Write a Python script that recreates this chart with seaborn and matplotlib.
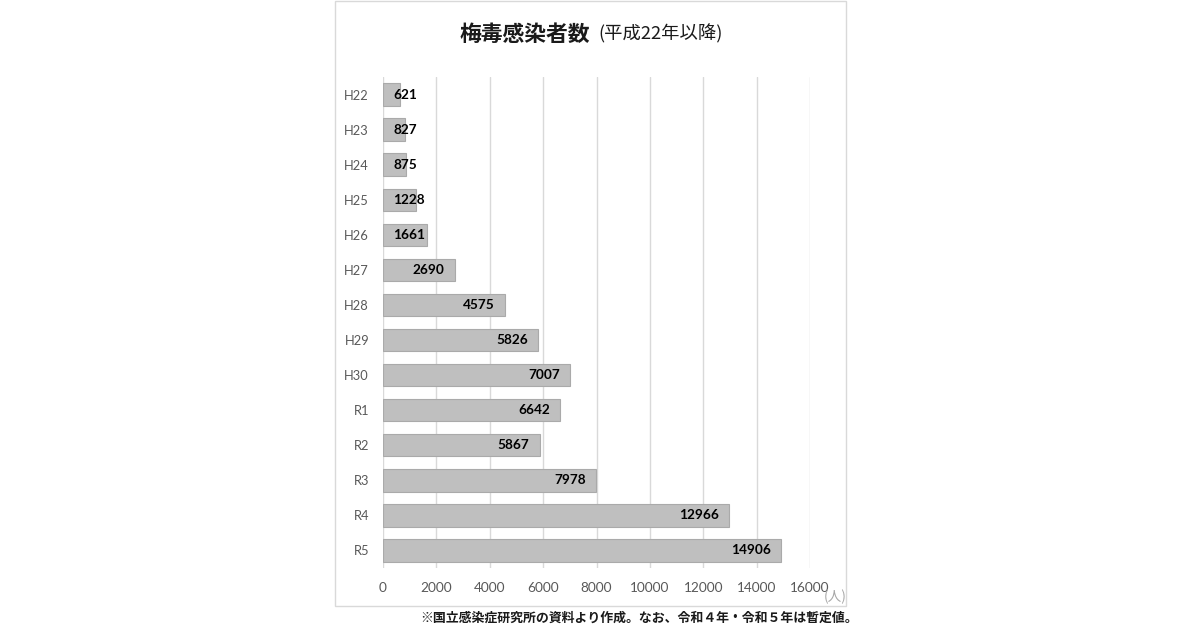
import matplotlib
matplotlib.use("Agg")
import matplotlib.pyplot as plt
import matplotlib.patches as mpatches
import seaborn as sns
import pandas as pd

categories = ["H22", "H23", "H24", "H25", "H26", "H27", "H28", "H29", "H30",
              "R1", "R2", "R3", "R4", "R5"]
values = [621, 827, 875, 1228, 1661, 2690, 4575, 5826, 7007,
          6642, 5867, 7978, 12966, 14906]
x_ticks = [0, 2000, 4000, 6000, 8000, 10000, 12000, 14000, 16000]
title_main = "梅毒感染者数"
title_sub = "(平成22年以降)"
unit_label = "(人)"
footnote = "※国立感染症研究所の資料より作成。なお、令和４年・令和５年は暫定値。"

sns.set_style("white")
plt.rcParams['font.family'] = ['Lato', 'Noto Sans CJK JP', 'DejaVu Sans']

W, H = 1200, 630
fig = plt.figure(figsize=(12, 6.3), dpi=100)
fig.patch.set_facecolor("white")

# panel border
fig.patches.append(mpatches.Rectangle((335 / W, 1 - 606 / H), (846 - 335) / W, 606 / H - 0.002,
                                      transform=fig.transFigure, fill=False,
                                      edgecolor="#d9d9d9", linewidth=1.0, zorder=0))

ax = fig.add_axes([383 / W, 1 - 568 / H, (810 - 383) / W, (568 - 77) / H])
df = pd.DataFrame({"cat": categories, "val": values})
sns.barplot(data=df, x="val", y="cat", orient="h", color="#bfbfbf", saturation=1,
            width=0.64, edgecolor="#aaaaaa", linewidth=0.8, ax=ax, zorder=2)

ax.set_xlim(0, 16000)
ax.set_ylim(13.5, -0.5)
ax.set_xticks(x_ticks)
ax.set_xticklabels([str(t) for t in x_ticks])
ax.set_xlabel("")
ax.set_ylabel("")
for s in ax.spines.values():
    s.set_visible(False)
ax.grid(axis="x", color="#d9d9d9", linewidth=1.0, zorder=0)
ax.grid(axis="y", visible=False)
ax.set_axisbelow(True)
ax.tick_params(axis="x", length=0, pad=10, labelsize=9.8, labelcolor="#595959")
ax.tick_params(axis="y", length=0, pad=10, labelsize=9.3, labelcolor="#595959")

for i, v in enumerate(values):
    if v >= 2000:
        ax.annotate(str(v), xy=(v, i), xytext=(-7.2, 0), textcoords="offset points",
                    ha="right", va="center", fontsize=9.8, fontweight="bold", color="black")
    else:
        ax.annotate(str(v), xy=(0, i), xytext=(7.2, 0), textcoords="offset points",
                    ha="left", va="center", fontsize=9.8, fontweight="bold", color="black")

# title
cjk = ['Noto Sans CJK JP', 'DejaVu Sans']
fig.text(590 / W, 1 - 34 / H, title_main, ha="right", va="center", fontsize=15.7,
         fontweight="bold", family=cjk, color="#1a1a1a")
fig.text(598 / W, 1 - 34 / H, title_sub, ha="left", va="center", fontsize=13.2,
         family=cjk, color="#1a1a1a")

fig.text(835 / W, 1 - 597 / H, unit_label, ha="center", va="center", fontsize=9.8,
         family=cjk, color="#a6a6a6")
fig.text(858 / W, 1 - 618 / H, footnote, ha="right", va="center", fontsize=9.3,
         fontweight="bold", family=cjk, color="#1a1a1a")

fig.savefig("out.png", dpi=100, facecolor="white")
